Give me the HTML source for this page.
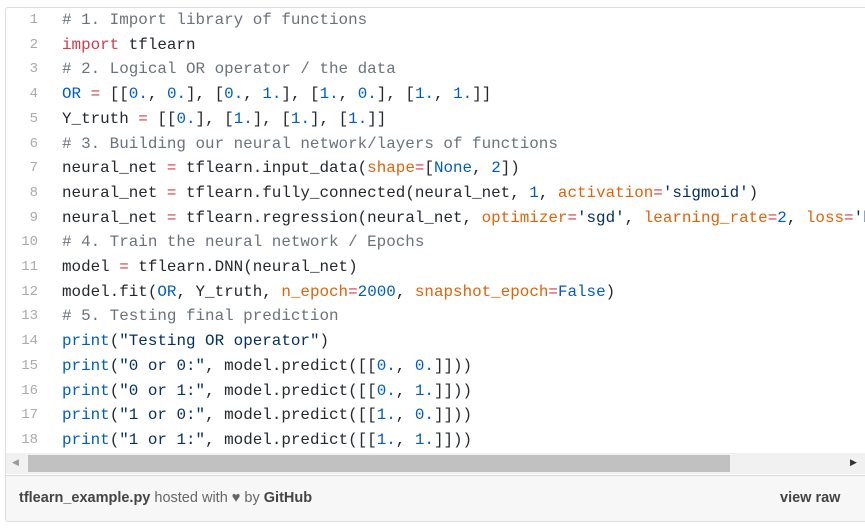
<!DOCTYPE html>
<html><head><meta charset="utf-8"><style>
body{margin:0;background:#fff;width:865px;height:529px;overflow:hidden;font-family:"Liberation Sans",sans-serif}
.box{position:absolute;left:5px;top:7px;width:862px;height:513px;border:1px solid #ddd;border-radius:3px;background:#fff;overflow:hidden}
.code{position:absolute;left:0;top:0;font-family:"Liberation Mono",monospace;font-size:15.9px;color:#24292e;white-space:pre}
.l{position:absolute;height:24.7px;line-height:24.7px}
.n{position:absolute;width:32px;text-align:right;color:#aaa;font-size:14px}
.t{position:absolute;left:56px}
.c{color:#6a737d}.k{color:#d73a49}.b{color:#005cc5}.o{color:#e36209}.s{color:#032f62}
.sb{position:absolute;left:0;top:445px;width:862px;height:21px;background:#f1f1f1}
.th{position:absolute;left:22px;top:2px;width:702px;height:17px;background:#c1c1c1}
.foot{position:absolute;left:0;top:467px;width:862px;height:46px;background:#f7f7f7;border-top:1px solid #ddd;font-size:14.5px;color:#666}
</style></head><body>
<div class="box">
<div class="code">
<div class="l" style="top:0px"><span class="n">1</span><span class="t c"># 1. Import library of functions</span></div>
<div class="l" style="top:24.7px"><span class="n">2</span><span class="t"><span class="k">import</span> tflearn</span></div>
<div class="l" style="top:49.4px"><span class="n">3</span><span class="t c"># 2. Logical OR operator / the data</span></div>
<div class="l" style="top:74.1px"><span class="n">4</span><span class="t"><span class="b">OR</span> <span class="k">=</span> [[<span class="b">0.</span>, <span class="b">0.</span>], [<span class="b">0.</span>, <span class="b">1.</span>], [<span class="b">1.</span>, <span class="b">0.</span>], [<span class="b">1.</span>, <span class="b">1.</span>]]</span></div>
<div class="l" style="top:98.8px"><span class="n">5</span><span class="t">Y_truth <span class="k">=</span> [[<span class="b">0.</span>], [<span class="b">1.</span>], [<span class="b">1.</span>], [<span class="b">1.</span>]]</span></div>
<div class="l" style="top:123.5px"><span class="n">6</span><span class="t c"># 3. Building our neural network/layers of functions</span></div>
<div class="l" style="top:148.2px"><span class="n">7</span><span class="t">neural_net <span class="k">=</span> tflearn.input_data(<span class="o">shape</span><span class="k">=</span>[<span class="b">None</span>, <span class="b">2</span>])</span></div>
<div class="l" style="top:172.9px"><span class="n">8</span><span class="t">neural_net <span class="k">=</span> tflearn.fully_connected(neural_net, <span class="b">1</span>, <span class="o">activation</span><span class="k">=</span><span class="s">'sigmoid'</span>)</span></div>
<div class="l" style="top:197.6px"><span class="n">9</span><span class="t">neural_net <span class="k">=</span> tflearn.regression(neural_net, <span class="o">optimizer</span><span class="k">=</span><span class="s">'sgd'</span>, <span class="o">learning_rate</span><span class="k">=</span><span class="b">2</span>, <span class="o">loss</span><span class="k">=</span><span class="s">'binary_crossentropy'</span>)</span></div>
<div class="l" style="top:222.3px"><span class="n">10</span><span class="t c"># 4. Train the neural network / Epochs</span></div>
<div class="l" style="top:247px"><span class="n">11</span><span class="t">model <span class="k">=</span> tflearn.DNN(neural_net)</span></div>
<div class="l" style="top:271.7px"><span class="n">12</span><span class="t">model.fit(<span class="b">OR</span>, Y_truth, <span class="o">n_epoch</span><span class="k">=</span><span class="b">2000</span>, <span class="o">snapshot_epoch</span><span class="k">=</span><span class="b">False</span>)</span></div>
<div class="l" style="top:296.4px"><span class="n">13</span><span class="t c"># 5. Testing final prediction</span></div>
<div class="l" style="top:321.1px"><span class="n">14</span><span class="t"><span class="b">print</span>(<span class="s">"Testing OR operator"</span>)</span></div>
<div class="l" style="top:345.8px"><span class="n">15</span><span class="t"><span class="b">print</span>(<span class="s">"0 or 0:"</span>, model.predict([[<span class="b">0.</span>, <span class="b">0.</span>]]))</span></div>
<div class="l" style="top:370.5px"><span class="n">16</span><span class="t"><span class="b">print</span>(<span class="s">"0 or 1:"</span>, model.predict([[<span class="b">0.</span>, <span class="b">1.</span>]]))</span></div>
<div class="l" style="top:395.2px"><span class="n">17</span><span class="t"><span class="b">print</span>(<span class="s">"1 or 0:"</span>, model.predict([[<span class="b">1.</span>, <span class="b">0.</span>]]))</span></div>
<div class="l" style="top:419.9px"><span class="n">18</span><span class="t"><span class="b">print</span>(<span class="s">"1 or 1:"</span>, model.predict([[<span class="b">1.</span>, <span class="b">1.</span>]]))</span></div>
</div>
<div class="sb"><span style="position:absolute;left:6px;top:4px;font-size:9px;color:#999">◀</span><div class="th"></div><span style="position:absolute;left:844px;top:4px;font-size:9px;color:#333">▶</span></div>
<div class="foot"><div style="position:absolute;left:13px;top:14px"><b style="color:#444">tflearn_example.py</b> hosted with ♥ by <b style="color:#444">GitHub</b></div><div style="position:absolute;left:774px;top:14px;font-weight:bold;color:#444">view raw</div></div>
</div>
</body></html>
